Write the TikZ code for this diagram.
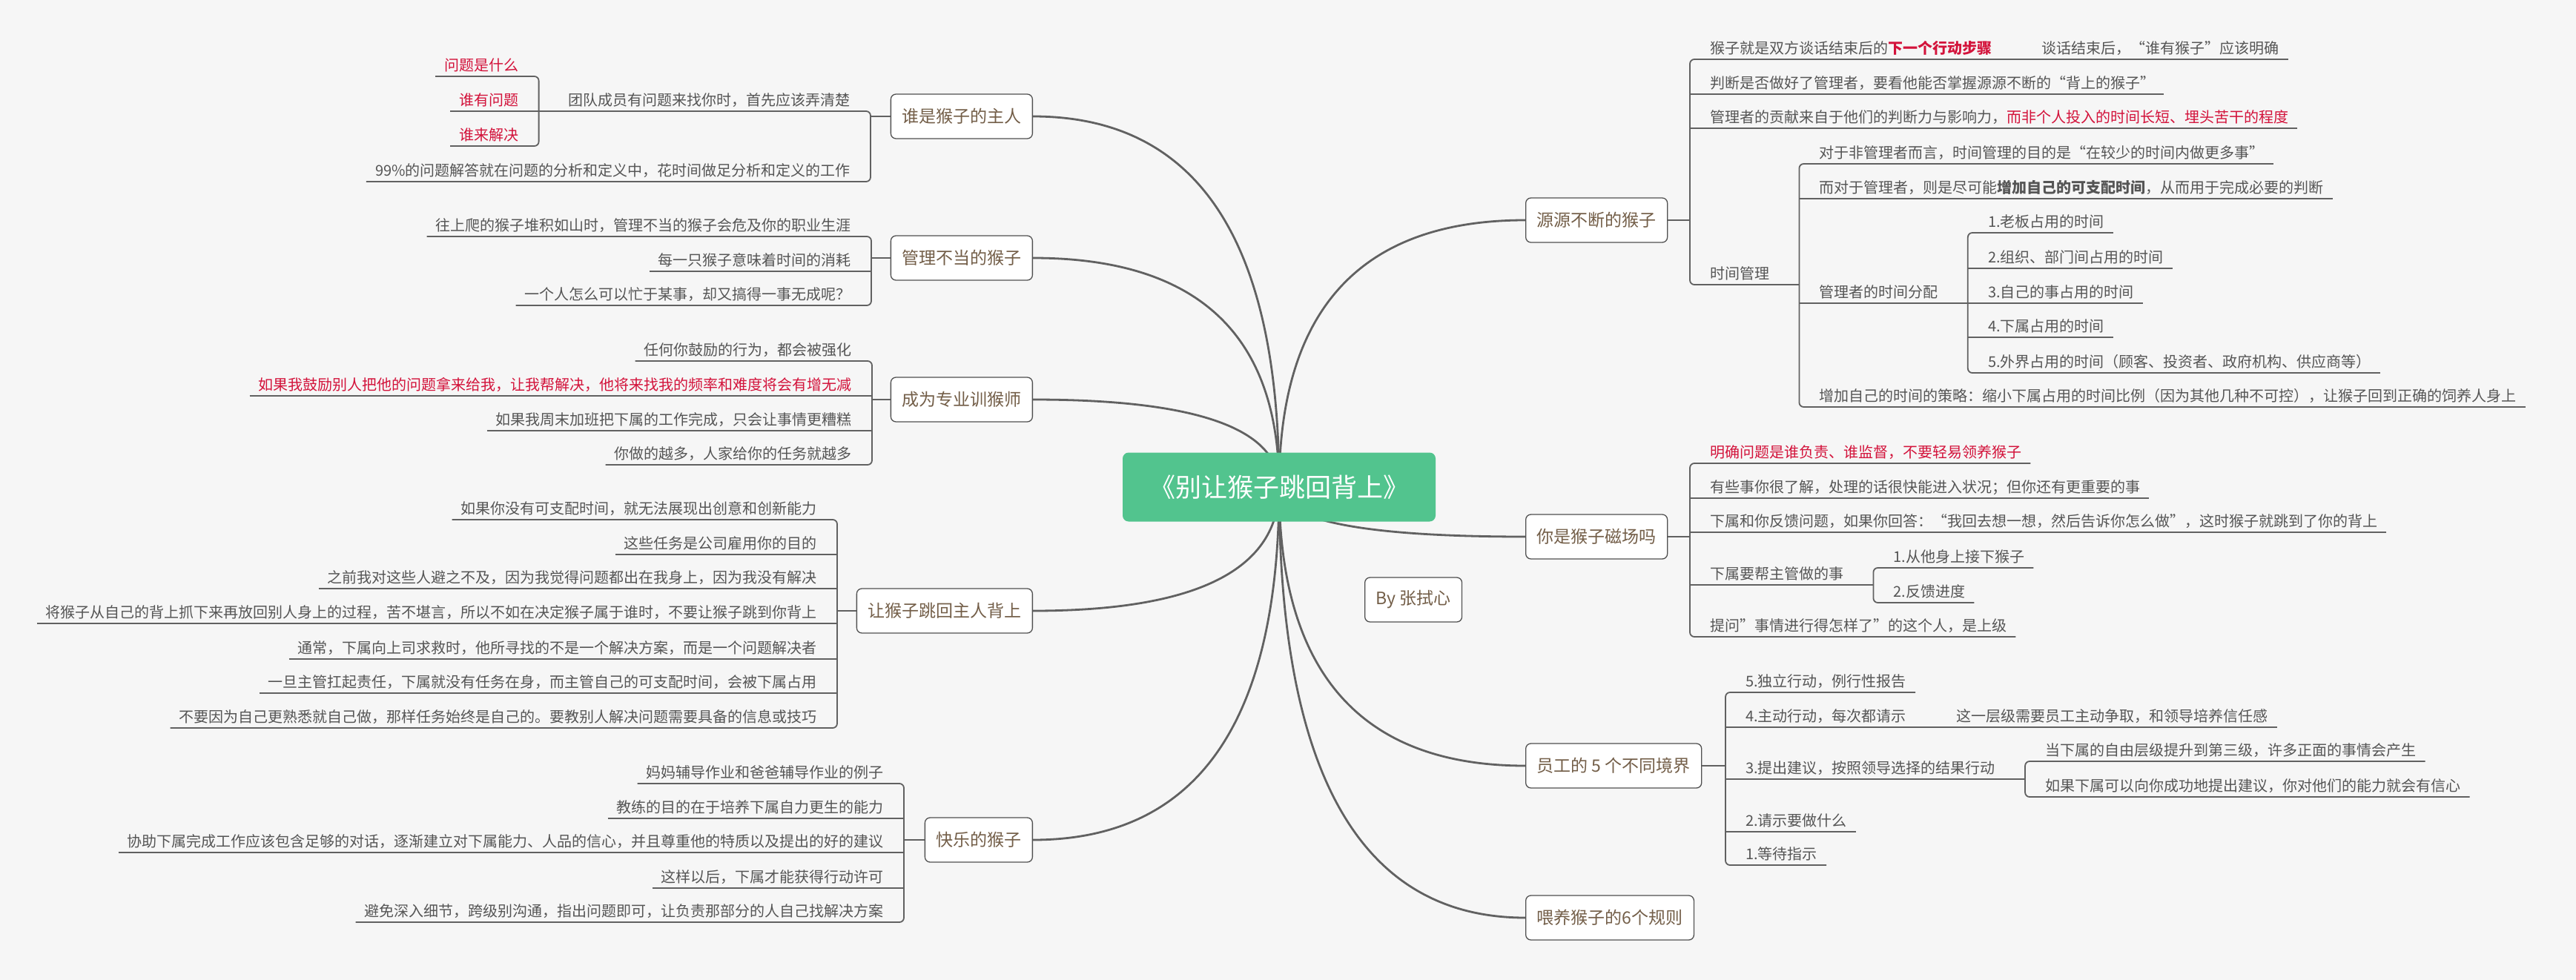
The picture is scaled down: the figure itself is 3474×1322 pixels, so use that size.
\documentclass[tikz,border=0pt]{standalone}
\usepackage{fontspec}
\setmainfont{Noto Sans CJK SC}
\usetikzlibrary{calc}

\definecolor{bgcol}{HTML}{F6F6F6}
\definecolor{linecol}{HTML}{616161}
\definecolor{boxcol}{HTML}{505050}
\definecolor{leafcol}{HTML}{555555}
\definecolor{topiccol}{HTML}{735E48}
\definecolor{redcol}{HTML}{D3133B}
\definecolor{rootcol}{HTML}{52C48E}

\begin{document}
\begin{tikzpicture}[x=1pt,y=-1pt,
  root/.style={fill=rootcol, text=white, rounded corners=8pt, minimum width=422pt, minimum height=93pt, font=\fontsize{35}{40}\selectfont},
  topic/.style={draw=boxcol, fill=white, rounded corners=7pt, line width=1.3pt, minimum height=60pt, inner xsep=15pt, text=topiccol, font=\fontsize{23}{28}\selectfont},
  leaf/.style={inner xsep=12pt, inner ysep=0pt, text height=17pt, text depth=7pt, text=leafcol, font=\fontsize{20}{24}\selectfont},
  lleaf/.style={leaf, anchor=south east, xshift=-15pt},
  rleaf/.style={leaf, anchor=south west, xshift=15pt},
  hot/.style={text=redcol},
  branch/.style={draw=linecol, line width=2.8pt},
  twig/.style={draw=linecol, line width=1.8pt, rounded corners=6pt},
  limb/.style={branch, to path={.. controls ($(\tikztostart)!0.667!(\tikztostart |- \tikztotarget)$) and ($(\tikztotarget)!0.667!(\tikztostart |- \tikztotarget)$) .. (\tikztotarget)}},
]

\fill[bgcol] (0,0) rectangle (3474,1322);

%TOPICS
\coordinate (hub) at (1725,657);
\node[topic, anchor=east] (t1) at (1393,157) {谁是猴子的主人};
\node[topic, anchor=east] (t2) at (1393,348) {管理不当的猴子};
\node[topic, anchor=east] (t3) at (1393,539) {成为专业训猴师};
\node[topic, anchor=east] (t4) at (1393,824) {让猴子跳回主人背上};
\node[topic, anchor=east] (t5) at (1393,1133) {快乐的猴子};
\node[topic, anchor=west] (t6) at (2057,297) {源源不断的猴子};
\node[topic, anchor=west] (t7) at (2057,724) {你是猴子磁场吗};
\node[topic, anchor=west] (t8) at (2057,1033) {员工的 5 个不同境界};
\node[topic, anchor=west] (t9) at (2057,1238) {喂养猴子的6个规则};
\node[topic, anchor=west] (by) at (1840,809) {By 张拭心};

\draw[limb] (hub) to (t1.east);
\draw[limb] (hub) to (t2.east);
\draw[limb] (hub) to (t3.east);
\draw[limb] (hub) to (t4.east);
\draw[limb] (hub) to (t5.east);
\draw[limb] (hub) to (t6.west);
\draw[limb] (hub) to (t7.west);
\draw[limb] (hub) to (t8.west);
\draw[limb] (hub) to (t9.west);

\node[root] (root) at (hub) {《别让猴子跳回背上》};

%LEFT 1
\coordinate (k1) at (1174,157);
\node[lleaf] (a1) at (k1 |- 0,150) {团队成员有问题来找你时，首先应该弄清楚};
\node[lleaf] (a2) at (k1 |- 0,245) {99\%的问题解答就在问题的分析和定义中，花时间做足分析和定义的工作};
\draw[branch] (t1.west) -- (t1.west -| k1);
\draw[twig] (a1.south west) -- (a1.south west -| k1) -- (a2.south west -| k1) -- (a2.south west);

\coordinate (k11) at ([xshift=-28pt]a1.south west);
\node[lleaf, hot] (b1) at (k11 |- 0,103) {问题是什么};
\node[lleaf, hot] (b2) at (k11 |- 0,150) {谁有问题};
\node[lleaf, hot] (b3) at (k11 |- 0,197) {谁来解决};
\draw[twig] (a1.south west) -- (k11);
\draw[twig] (b1.south west) -- (b1.south west -| k11) -- (b3.south west -| k11) -- (b3.south west);
\draw[twig] (b2.south west) -- (b2.south west -| k11);

%LEFT 2
\coordinate (k2) at (1175,348);
\node[lleaf] (a3) at (k2 |- 0,319) {往上爬的猴子堆积如山时，管理不当的猴子会危及你的职业生涯};
\node[lleaf] (a4) at (k2 |- 0,366) {每一只猴子意味着时间的消耗};
\node[lleaf] (a5) at (k2 |- 0,412) {一个人怎么可以忙于某事，却又搞得一事无成呢？};
\draw[branch] (t2.west) -- (t2.west -| k2);
\draw[twig] (a3.south west) -- (a3.south west -| k2) -- (a5.south west -| k2) -- (a5.south west);
\draw[twig] (a4.south west) -- (a4.south west -| k2);

%LEFT 3
\coordinate (k3) at (1176,539);
\node[lleaf] (a6) at (k3 |- 0,487) {任何你鼓励的行为，都会被强化};
\node[lleaf, hot] (a7) at (k3 |- 0,534) {如果我鼓励别人把他的问题拿来给我，让我帮解决，他将来找我的频率和难度将会有增无减};
\node[lleaf] (a8) at (k3 |- 0,581) {如果我周末加班把下属的工作完成，只会让事情更糟糕};
\node[lleaf] (a9) at (k3 |- 0,627) {你做的越多，人家给你的任务就越多};
\draw[branch] (t3.west) -- (t3.west -| k3);
\draw[twig] (a6.south west) -- (a6.south west -| k3) -- (a9.south west -| k3) -- (a9.south west);
\draw[twig] (a7.south west) -- (a7.south west -| k3);
\draw[twig] (a8.south west) -- (a8.south west -| k3);

%LEFT 4
\coordinate (k4) at (1129,824);
\node[lleaf] (a10) at (k4 |- 0,701) {如果你没有可支配时间，就无法展现出创意和创新能力};
\node[lleaf] (a11) at (k4 |- 0,748) {这些任务是公司雇用你的目的};
\node[lleaf] (a12) at (k4 |- 0,794) {之前我对这些人避之不及，因为我觉得问题都出在我身上，因为我没有解决};
\node[lleaf] (a13) at (k4 |- 0,841) {将猴子从自己的背上抓下来再放回别人身上的过程，苦不堪言，所以不如在决定猴子属于谁时，不要让猴子跳到你背上};
\node[lleaf] (a14) at (k4 |- 0,889) {通常，下属向上司求救时，他所寻找的不是一个解决方案，而是一个问题解决者};
\node[lleaf] (a15) at (k4 |- 0,935) {一旦主管扛起责任，下属就没有任务在身，而主管自己的可支配时间，会被下属占用};
\node[lleaf] (a16) at (k4 |- 0,982) {不要因为自己更熟悉就自己做，那样任务始终是自己的。要教别人解决问题需要具备的信息或技巧};
\draw[branch] (t4.west) -- (t4.west -| k4);
\draw[twig] (a10.south west) -- (a10.south west -| k4) -- (a16.south west -| k4) -- (a16.south west);
\draw[twig] (a11.south west) -- (a11.south west -| k4);
\draw[twig] (a12.south west) -- (a12.south west -| k4);
\draw[twig] (a13.south west) -- (a13.south west -| k4);
\draw[twig] (a14.south west) -- (a14.south west -| k4);
\draw[twig] (a15.south west) -- (a15.south west -| k4);

%LEFT 5
\coordinate (k5) at (1219,1133);
\node[lleaf] (a17) at (k5 |- 0,1057) {妈妈辅导作业和爸爸辅导作业的例子};
\node[lleaf] (a18) at (k5 |- 0,1104) {教练的目的在于培养下属自力更生的能力};
\node[lleaf] (a19) at (k5 |- 0,1150) {协助下属完成工作应该包含足够的对话，逐渐建立对下属能力、人品的信心，并且尊重他的特质以及提出的好的建议};
\node[lleaf] (a20) at (k5 |- 0,1198) {这样以后，下属才能获得行动许可};
\node[lleaf] (a21) at (k5 |- 0,1244) {避免深入细节，跨级别沟通，指出问题即可，让负责那部分的人自己找解决方案};
\draw[branch] (t5.west) -- (t5.west -| k5);
\draw[twig] (a17.south west) -- (a17.south west -| k5) -- (a21.south west -| k5) -- (a21.south west);
\draw[twig] (a18.south west) -- (a18.south west -| k5);
\draw[twig] (a19.south west) -- (a19.south west -| k5);
\draw[twig] (a20.south west) -- (a20.south west -| k5);

%RIGHT 1
\coordinate (k6) at (2279,297);
\node[rleaf] (c1) at (k6 |- 0,80) {猴子就是双方谈话结束后的\textcolor{redcol}{\bfseries 下一个行动步骤}};
\node[rleaf] (c2) at (k6 |- 0,127) {判断是否做好了管理者，要看他能否掌握源源不断的“背上的猴子”};
\node[rleaf] (c3) at (k6 |- 0,173) {管理者的贡献来自于他们的判断力与影响力，\textcolor{redcol}{而非个人投入的时间长短、埋头苦干的程度}};
\node[rleaf] (c4) at (k6 |- 0,384) {时间管理};
\draw[branch] (t6.east) -- (t6.east -| k6);
\draw[twig] (c1.south east) -- (c1.south east -| k6) -- (c4.south east -| k6) -- (c4.south east);
\draw[twig] (c2.south east) -- (c2.south east -| k6);
\draw[twig] (c3.south east) -- (c3.south east -| k6);

\coordinate (k61) at ([xshift=28pt]c1.south east);
\node[rleaf] (d1) at (k61) {谈话结束后，“谁有猴子”应该明确};
\draw[twig] (c1.south east) -- (d1.south east);

\coordinate (k62) at ([xshift=28pt]c4.south east);
\node[rleaf] (e1) at (k62 |- 0,221) {对于非管理者而言，时间管理的目的是“在较少的时间内做更多事”};
\node[rleaf] (e2) at (k62 |- 0,268) {而对于管理者，则是尽可能{\bfseries 增加自己的可支配时间}，从而用于完成必要的判断};
\node[rleaf] (e3) at (k62 |- 0,409) {管理者的时间分配};
\node[rleaf] (e4) at (k62 |- 0,549) {增加自己的时间的策略：缩小下属占用的时间比例（因为其他几种不可控），让猴子回到正确的饲养人身上};
\draw[twig] (c4.south east) -- (k62);
\draw[twig] (e1.south east) -- (e1.south east -| k62) -- (e4.south east -| k62) -- (e4.south east);
\draw[twig] (e2.south east) -- (e2.south east -| k62);
\draw[twig] (e3.south east) -- (e3.south east -| k62);

\coordinate (k63) at ([xshift=28pt]e3.south east);
\node[rleaf] (g1) at (k63 |- 0,314) {1.老板占用的时间};
\node[rleaf] (g2) at (k63 |- 0,362) {2.组织、部门间占用的时间};
\node[rleaf] (g3) at (k63 |- 0,409) {3.自己的事占用的时间};
\node[rleaf] (g4) at (k63 |- 0,455) {4.下属占用的时间};
\node[rleaf] (g5) at (k63 |- 0,503) {5.外界占用的时间（顾客、投资者、政府机构、供应商等）};
\draw[twig] (e3.south east) -- (k63);
\draw[twig] (g1.south east) -- (g1.south east -| k63) -- (g5.south east -| k63) -- (g5.south east);
\draw[twig] (g2.south east) -- (g2.south east -| k63);
\draw[twig] (g3.south east) -- (g3.south east -| k63);
\draw[twig] (g4.south east) -- (g4.south east -| k63);

%RIGHT 2
\coordinate (k7) at (2279,724);
\node[rleaf, hot] (h1) at (k7 |- 0,625) {明确问题是谁负责、谁监督，不要轻易领养猴子};
\node[rleaf] (h2) at (k7 |- 0,672) {有些事你很了解，处理的话很快能进入状况；但你还有更重要的事};
\node[rleaf] (h3) at (k7 |- 0,718) {下属和你反馈问题，如果你回答：“我回去想一想，然后告诉你怎么做”，这时猴子就跳到了你的背上};
\node[rleaf] (h4) at (k7 |- 0,789) {下属要帮主管做的事};
\node[rleaf] (h5) at (k7 |- 0,859) {提问”事情进行得怎样了”的这个人，是上级};
\draw[branch] (t7.east) -- (t7.east -| k7);
\draw[twig] (h1.south east) -- (h1.south east -| k7) -- (h5.south east -| k7) -- (h5.south east);
\draw[twig] (h2.south east) -- (h2.south east -| k7);
\draw[twig] (h3.south east) -- (h3.south east -| k7);
\draw[twig] (h4.south east) -- (h4.south east -| k7);

\coordinate (k71) at ([xshift=28pt]h4.south east);
\node[rleaf] (i1) at (k71 |- 0,766) {1.从他身上接下猴子};
\node[rleaf] (i2) at (k71 |- 0,813) {2.反馈进度};
\draw[twig] (h4.south east) -- (k71);
\draw[twig] (i1.south east) -- (i1.south east -| k71) -- (i2.south east -| k71) -- (i2.south east);

%RIGHT 3
\coordinate (k8) at (2327,1033);
\node[rleaf] (f1) at (k8 |- 0,934) {5.独立行动，例行性报告};
\node[rleaf] (f2) at (k8 |- 0,981) {4.主动行动，每次都请示};
\node[rleaf] (f3) at (k8 |- 0,1051) {3.提出建议，按照领导选择的结果行动};
\node[rleaf] (f4) at (k8 |- 0,1122) {2.请示要做什么};
\node[rleaf] (f5) at (k8 |- 0,1167) {1.等待指示};
\draw[branch] (t8.east) -- (t8.east -| k8);
\draw[twig] (f1.south east) -- (f1.south east -| k8) -- (f5.south east -| k8) -- (f5.south east);
\draw[twig] (f2.south east) -- (f2.south east -| k8);
\draw[twig] (f3.south east) -- (f3.south east -| k8);
\draw[twig] (f4.south east) -- (f4.south east -| k8);

\coordinate (k81) at ([xshift=28pt]f2.south east);
\node[rleaf] (j1) at (k81) {这一层级需要员工主动争取，和领导培养信任感};
\draw[twig] (f2.south east) -- (j1.south east);

\coordinate (k82) at ([xshift=28pt]f3.south east);
\node[rleaf] (j2) at (k82 |- 0,1027) {当下属的自由层级提升到第三级，许多正面的事情会产生};
\node[rleaf] (j3) at (k82 |- 0,1075) {如果下属可以向你成功地提出建议，你对他们的能力就会有信心};
\draw[twig] (f3.south east) -- (k82);
\draw[twig] (j2.south east) -- (j2.south east -| k82) -- (j3.south east -| k82) -- (j3.south east);

\end{tikzpicture}
\end{document}
